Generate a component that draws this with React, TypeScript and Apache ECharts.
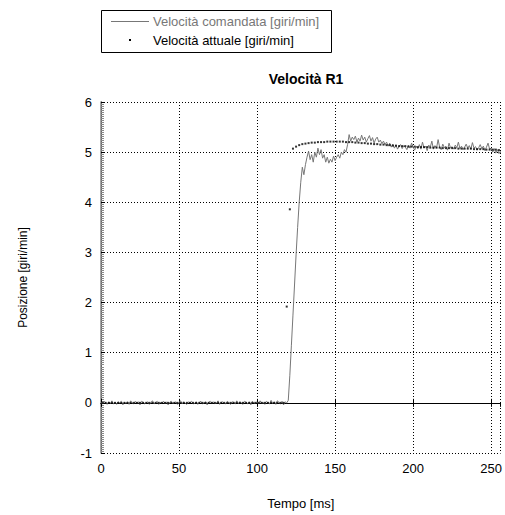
import React, { useEffect, useRef } from "react";
import * as echarts from "echarts";

// Commanded speed, one sample per ms starting at t = 0 ms
const commandedSpeed: number[] = [
  0.01, -0.02, 0.03, 0.0, -0.03, 0.02, -0.01, 0.04, -0.02, 0.01,
  -0.03, 0.02, 0.0, 0.03, -0.04, 0.01, -0.01, 0.02, -0.03, 0.04,
  0.0, -0.02, 0.03, -0.01, 0.02, -0.04, 0.03, 0.01, -0.02, 0.0,
  0.02, -0.03, 0.01, 0.04, -0.02, 0.0, 0.03, -0.03, 0.01, -0.01,
  0.03, -0.02, 0.02, -0.04, 0.01, 0.03, -0.01, 0.0, 0.02, -0.03,
  0.01, 0.04, -0.02, 0.02, -0.01, -0.03, 0.02, 0.0, 0.03, -0.02,
  -0.01, 0.02, -0.03, 0.01, 0.03, -0.02, 0.0, 0.02, -0.04, 0.01,
  0.03, -0.01, 0.02, -0.02, 0.0, 0.04, -0.03, 0.01, 0.02, -0.01,
  -0.02, 0.03, 0.0, -0.03, 0.02, 0.01, -0.02, 0.04, -0.01, 0.02,
  0.0, -0.03, 0.03, 0.01, -0.02, 0.02, -0.04, 0.03, 0.0, -0.01,
  0.02, -0.02, 0.04, -0.01, 0.01, -0.03, 0.03, 0.0, -0.02, 0.05,
  -0.01, 0.02, -0.03, 0.04, 0.01, -0.02, 0.03, -0.04, 0.02, 0.0,
  // 120 ms: step response
  0.05, 0.55, 1.15, 1.75, 2.35, 2.95, 3.5, 4.0, 4.4, 4.7,
  4.55, 4.75, 4.9, 5.02, 4.85, 4.95, 4.8, 5.0, 4.9, 5.08,
  4.95, 5.05, 4.88, 4.95, 4.8, 4.9, 4.78, 4.86, 4.8, 4.92,
  4.83, 4.9, 4.95, 4.88, 5.0, 4.95, 5.05, 5.0, 5.15, 5.35,
  5.22, 5.3, 5.25, 5.32, 5.2, 5.28, 5.22, 5.34, 5.24, 5.3,
  5.2, 5.27, 5.33, 5.22, 5.29, 5.18, 5.26, 5.3, 5.2, 5.24,
  5.17, 5.22, 5.15, 5.2, 5.12, 5.18, 5.1, 5.16, 5.08, 5.14,
  5.06, 5.12, 5.15, 5.07, 5.13, 5.1, 5.05, 5.14, 5.08, 5.18,
  5.1, 5.04, 5.12, 5.07, 5.15, 5.06, 5.2, 5.08, 5.12, 5.03,
  5.14, 5.1, 5.22, 5.06, 5.13, 5.08, 5.25, 5.1, 5.05, 5.16,
  5.09, 5.12, 5.04, 5.18, 5.08, 5.11, 5.06, 5.14, 5.09, 5.2,
  5.07, 5.12, 5.05, 5.1, 5.16, 5.08, 5.13, 5.06, 5.19, 5.08,
  5.11, 5.04, 5.09, 5.15, 5.07, 5.12, 5.03, 5.1, 5.18, 5.06,
  5.08, 5.0, 5.07, 4.98, 5.05, 4.97, 5.02,
];
const commandedStartMs = 0;
const commandedStepMs = 1;

// Measured speed, one sample every 2 ms starting at t = 1 ms
const actualSpeed: number[] = [
  0, 0, 0, 0, 0, 0, 0, 0, 0, 0,
  0, 0, 0, 0, 0, 0, 0, 0, 0, 0,
  0, 0, 0, 0, 0, 0, 0, 0, 0, 0,
  0, 0, 0, 0, 0, 0, 0, 0, 0, 0,
  0, 0, 0, 0, 0, 0, 0, 0, 0, 0,
  0, 0, 0, 0, 0, 0, 0, 0, 0,
  // 119 ms
  1.92, 3.86,
  5.07, 5.11, 5.14, 5.16, 5.17, 5.18, 5.19, 5.19, 5.2, 5.2,
  5.2, 5.21, 5.21, 5.21, 5.21, 5.21, 5.21, 5.2, 5.2, 5.2,
  5.19, 5.19, 5.18, 5.18, 5.17, 5.17, 5.16, 5.16, 5.15, 5.15,
  5.14, 5.14, 5.13, 5.13, 5.12, 5.12, 5.12, 5.11, 5.11, 5.11,
  5.1, 5.1, 5.1, 5.1, 5.09, 5.09, 5.09, 5.09, 5.08, 5.08,
  5.08, 5.08, 5.08, 5.07, 5.07, 5.07, 5.07, 5.07, 5.06, 5.06,
  5.06, 5.06, 5.05, 5.05, 5.05, 5.05, 5.04,
];
const actualStartMs = 1;
const actualStepMs = 2;

const xTicks = { min: 0, max: 256, interval: 50 };
const yTicks = { min: -1, max: 6, interval: 1 };

const seriesNames = ["Velocità comandata [giri/min]", "Velocità attuale [giri/min]"];
const chartTitle = "Velocità R1";
const xName = "Tempo [ms]";
const yName = "Posizione [giri/min]";

const FONT = "'Liberation Sans', Arial, Helvetica, sans-serif";

export default function App() {
  const ref = useRef<HTMLDivElement>(null);

  useEffect(() => {
    if (!ref.current) return;
    const chart = echarts.init(ref.current, null, { renderer: "svg" });

    const commandedData = commandedSpeed.map((v, i) => [commandedStartMs + i * commandedStepMs, v]);
    const actualData = actualSpeed.map((v, i) => [actualStartMs + i * actualStepMs, v]);

    const dotted = { color: "#000", width: 1, type: [1, 2] as number[] };

    chart.setOption({
      animation: false,
      backgroundColor: "#fff",
      textStyle: { fontFamily: FONT },
      title: {
        text: chartTitle,
        left: 301,
        top: 67,
        textAlign: "center",
        textStyle: { fontFamily: FONT, fontSize: 14, fontWeight: "bold", color: "#000" },
      },
      grid: { left: 101, right: 3, top: 102, bottom: 58.5, containLabel: false },
      xAxis: [
        {
          type: "value",
          min: xTicks.min,
          max: xTicks.max,
          interval: xTicks.interval,
          name: xName,
          nameLocation: "middle",
          nameGap: 44,
          nameTextStyle: { fontFamily: FONT, fontSize: 13, color: "#000" },
          axisLine: { show: true, lineStyle: { color: "#000", width: 1 } },
          axisTick: { show: true, inside: true, length: 4, lineStyle: { color: "#000" } },
          axisLabel: { margin: 9, fontFamily: FONT, fontSize: 13, color: "#000" },
          splitLine: { show: true, lineStyle: dotted },
        },
        {
          type: "value",
          position: "top",
          min: xTicks.min,
          max: xTicks.max,
          interval: xTicks.interval,
          axisLine: { show: true, lineStyle: { color: "#000", width: 1 } },
          axisTick: { show: true, inside: true, length: 4, lineStyle: { color: "#000" } },
          axisLabel: { show: false },
          splitLine: { show: false },
        },
      ],
      yAxis: [
        {
          type: "value",
          min: yTicks.min,
          max: yTicks.max,
          interval: yTicks.interval,
          name: yName,
          nameLocation: "middle",
          nameGap: 72,
          nameTextStyle: { fontFamily: FONT, fontSize: 12, color: "#000" },
          axisLine: { show: true, lineStyle: { color: "#000", width: 1 } },
          axisTick: { show: true, inside: true, length: 4, lineStyle: { color: "#000" } },
          minorTick: { show: true, splitNumber: 25, length: 3, lineStyle: { color: "#888" } },
          axisLabel: { margin: 9, fontFamily: FONT, fontSize: 13, color: "#000" },
          splitLine: { show: true, lineStyle: dotted },
        },
        {
          type: "value",
          position: "right",
          min: yTicks.min,
          max: yTicks.max,
          interval: yTicks.interval,
          axisLine: { show: true, lineStyle: { color: "#888", width: 1.5 } },
          axisTick: { show: false },
          axisLabel: { show: false },
          splitLine: { show: false },
        },
      ],
      series: [
        {
          name: seriesNames[0],
          type: "line",
          data: commandedData,
          showSymbol: false,
          symbol: "none",
          lineStyle: { color: "#777", width: 1 },
          z: 2,
        },
        {
          name: seriesNames[1],
          type: "scatter",
          data: actualData,
          symbol: "rect",
          symbolSize: 2,
          itemStyle: { color: "#000" },
          z: 3,
        },
      ],
      graphic: [
        {
          type: "rect",
          shape: { x: 101.5, y: 10.5, width: 230, height: 42 },
          style: { fill: "#fff", stroke: "#000", lineWidth: 1 },
          z: 10,
        },
        {
          type: "line",
          shape: { x1: 111, y1: 21.5, x2: 149, y2: 21.5 },
          style: { stroke: "#777", lineWidth: 1 },
          z: 11,
        },
        {
          type: "text",
          x: 153,
          y: 21.5,
          style: {
            text: seriesNames[0],
            fill: "#777",
            font: `13px ${FONT}`,
            verticalAlign: "middle",
          },
          z: 11,
        },
        {
          type: "rect",
          shape: { x: 129, y: 39, width: 2, height: 2 },
          style: { fill: "#000" },
          z: 11,
        },
        {
          type: "text",
          x: 153,
          y: 40,
          style: {
            text: seriesNames[1],
            fill: "#000",
            font: `13px ${FONT}`,
            verticalAlign: "middle",
          },
          z: 11,
        },
      ],
    });

    return () => chart.dispose();
  }, []);

  return (
    <div
      ref={ref}
      style={{ position: "fixed", left: 0, top: 0, width: 505, height: 515, background: "#fff" }}
    />
  );
}
